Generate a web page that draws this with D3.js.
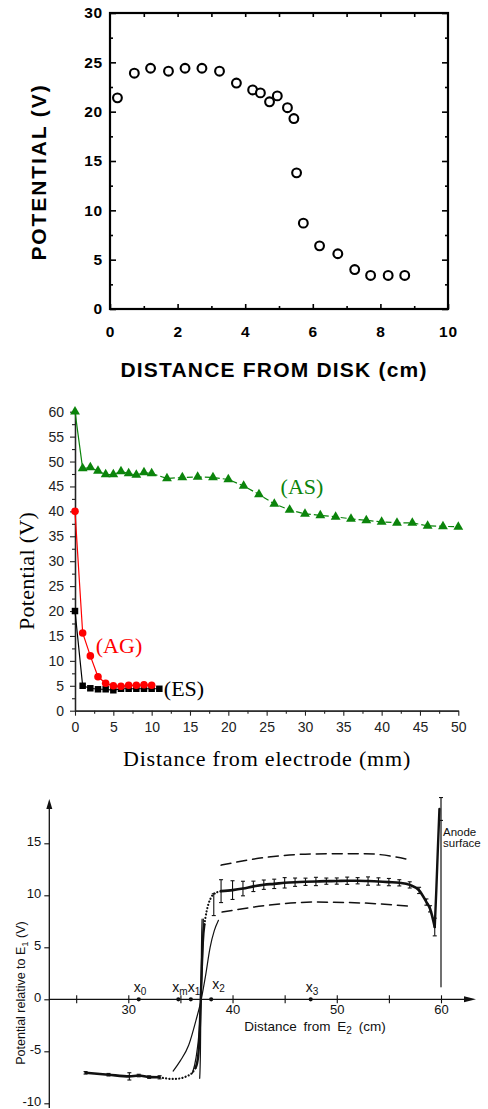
<!DOCTYPE html>
<html>
<head>
<meta charset="utf-8">
<script src="https://cdn.jsdelivr.net/npm/d3@7"></script>
<style>
  html, body { margin: 0; padding: 0; background: #fff; }
  svg { display: block; }
</style>
</head>
<body>
<svg id="fig" width="488" height="1109"></svg>
<script>
// ---------- Panel 1: potential vs distance from disk ----------
const diskX = [0.22, 0.72, 1.2, 1.73, 2.22, 2.72, 3.24, 3.74, 4.22, 4.45, 4.72, 4.95, 5.25, 5.44, 5.52, 5.72, 6.2, 6.74, 7.24, 7.71, 8.23, 8.72];
const diskV = [21.4, 23.9, 24.4, 24.1, 24.4, 24.4, 24.1, 22.9, 22.2, 21.9, 21.0, 21.6, 20.4, 19.3, 13.8, 8.7, 6.4, 5.6, 4.0, 3.4, 3.4, 3.4];
const diskXTicks = [0, 2, 4, 6, 8, 10];
const diskYTicks = [0, 5, 10, 15, 20, 25, 30];

// ---------- Panel 2: potential vs distance from electrode ----------
const asX = [0, 1, 2, 3, 4, 5, 6, 7, 8, 9, 10, 12, 14, 16, 18, 20, 22, 24, 26, 28, 30, 32, 34, 36, 38, 40, 42, 44, 46, 48, 50];
const asV = [60, 48.6, 48.8, 48.1, 47.4, 47.4, 48.0, 47.6, 47.3, 47.8, 47.6, 46.6, 46.8, 46.9, 46.8, 46.4, 45.1, 43.4, 41.5, 40.3, 39.5, 39.2, 38.9, 38.5, 38.2, 37.9, 37.7, 37.7, 37.1, 37.0, 36.9];
const agX = [0, 1, 2, 3, 4, 5, 6, 7, 8, 9, 10];
const agV = [40, 15.6, 11.0, 6.8, 5.5, 5.0, 4.9, 5.1, 5.1, 5.2, 5.1];
const esX = [0, 1, 2, 3, 4, 5, 6, 7, 8, 9, 10, 11];
const esV = [20, 5.0, 4.5, 4.3, 4.3, 4.1, 4.4, 4.4, 4.4, 4.4, 4.4, 4.4];
const elXTicks = [0, 5, 10, 15, 20, 25, 30, 35, 40, 45, 50];
const elYTicks = [0, 5, 10, 15, 20, 25, 30, 35, 40, 45, 50, 55, 60];

// ---------- Panel 3: potential relative to E1 vs distance from E2 ----------
const lowX = [25.9, 28.1, 30.1, 31.0, 32.0, 33.0];
const lowV = [-7.07, -7.25, -7.41, -7.33, -7.48, -7.5];
const lowErr = [0.12, 0.12, 0.35, 0.12, 0.12, 0.15];
const lowDotX = [33.0, 33.7, 34.3, 35.0, 35.6, 36.1, 36.45];
const lowDotV = [-7.5, -7.62, -7.66, -7.6, -7.4, -7.1, -6.6];
const steepX = [36.45, 36.7, 36.85, 36.95, 37.05, 37.15, 37.3];
const steepV = [-6.6, -5.5, -3.0, 0, 3.0, 5.5, 7.2];
const upDotX = [37.3, 37.5, 37.7, 37.95, 38.2, 38.6, 38.9];
const upDotV = [7.2, 8.4, 9.2, 9.8, 10.15, 10.32, 10.4];
const plateauX = [38.9, 40, 41, 42, 43, 44, 45, 46, 47, 48, 49, 50, 51, 52, 53, 54, 55, 56, 57, 57.9, 58.6, 58.95, 59.4];
const plateauV = [10.4, 10.5, 10.65, 10.86, 11.02, 11.1, 11.2, 11.26, 11.3, 11.33, 11.36, 11.37, 11.4, 11.4, 11.37, 11.33, 11.27, 11.2, 11.0, 10.47, 9.35, 8.7, 6.95];
const plateauErr = [1.1, 0.9, 0.7, 0.5, 0.45, 0.45, 0.5, 0.4, 0.35, 0.4, 0.3, 0.3, 0.35, 0.3, 0.4, 0.35, 0.35, 0.3, 0.3, 0.3, 0.3, 0.3, 0.85];
const extraErrX = [38.2];
const extraErrV = [9.1];
const extraErrE = [1.05];
const spikeX = [59.4, 59.55, 59.7, 59.85];
const spikeV = [6.95, 10.5, 14.5, 18.3];
const anodeX = [60.0, 60.0];
const anodeV = [1.2, 19.4];
const wideX = [34.3, 35.0, 35.8, 36.5, 37.0, 37.4, 37.85, 38.25, 38.65];
const wideV = [-6.9, -5.9, -4.4, -2.0, 0, 2.2, 5.0, 6.6, 7.6];
const midX = [36.15, 36.5, 36.8, 36.97, 37.1, 37.2];
const midV = [-7.1, -5.6, -3.0, 0, 3.5, 7.7];
const narrowX = [36.85, 36.92, 36.97, 37.02, 37.08];
const narrowV = [-7.6, -5.0, 0, 5.0, 7.7];
const upperDashX = [38.9, 43.3, 47.9, 52.7, 57.1];
const upperDashV = [12.9, 13.66, 13.98, 14.0, 13.4];
const lowerDashX = [39.0, 43.3, 47.9, 52.7, 57.2];
const lowerDashV = [8.39, 9.03, 9.35, 9.25, 8.94];
const markX = [31.0, 34.8, 36.0, 37.95, 47.5];
const markSub = ["0", "m", "1", "2", "3"];
const e2XTicks = [25, 30, 35, 40, 45, 50, 55, 60];
const e2XLabels = [30, 40, 50, 60];
const e2YTicks = [-10, -5, 0, 5, 10, 15];

const svg = d3.select("#fig");
svg.append("rect").attr("width", 488).attr("height", 1109).attr("fill", "#fff");
const zip = (xs, ys) => xs.map((x, i) => [x, ys[i]]);

// ===== Panel 1 =====
{
  const g = svg.append("g");
  const x = d3.scaleLinear().domain([0, 10]).range([110, 448]);
  const y = d3.scaleLinear().domain([0, 30]).range([309, 13]);
  const font = "'Liberation Sans', Arial, sans-serif";

  const styleAxis = sel => {
    sel.select(".domain").remove();
    sel.selectAll("line").attr("stroke", "#000").attr("stroke-width", 1.6);
    sel.selectAll("text").attr("font-family", font).attr("font-weight", "bold")
      .attr("font-size", 15.5).attr("letter-spacing", 0.8).attr("fill", "#000");
  };

  g.append("g").attr("transform", `translate(${x(0)},0)`)
    .call(d3.axisLeft(y).tickValues(diskYTicks).tickSizeInner(-6).tickSizeOuter(0).tickPadding(7))
    .call(styleAxis);
  g.append("g").attr("transform", `translate(${x(0)},0)`)
    .call(d3.axisLeft(y).tickValues(d3.range(2.5, 30, 5)).tickSizeInner(-3).tickSizeOuter(0).tickFormat(""))
    .call(styleAxis);
  g.append("g").attr("transform", `translate(${x(10)},0)`)
    .call(d3.axisRight(y).tickValues(diskYTicks).tickSizeInner(-6).tickSizeOuter(0).tickFormat(""))
    .call(styleAxis);
  g.append("g").attr("transform", `translate(${x(10)},0)`)
    .call(d3.axisRight(y).tickValues(d3.range(2.5, 30, 5)).tickSizeInner(-3).tickSizeOuter(0).tickFormat(""))
    .call(styleAxis);
  g.append("g").attr("transform", `translate(0,${y(0)})`)
    .call(d3.axisBottom(x).tickValues(diskXTicks).tickSizeInner(-5).tickSizeOuter(0).tickPadding(17))
    .call(styleAxis);
  g.append("g").attr("transform", `translate(0,${y(0)})`)
    .call(d3.axisBottom(x).tickValues(d3.range(1, 10, 2)).tickSizeInner(-3).tickSizeOuter(0).tickFormat(""))
    .call(styleAxis);
  g.append("g").attr("transform", `translate(0,${y(30)})`)
    .call(d3.axisTop(x).tickValues(d3.range(1, 10, 1)).tickSizeInner(-4).tickSizeOuter(0).tickFormat(""))
    .call(styleAxis);

  g.append("rect").attr("x", x(0)).attr("y", y(30))
    .attr("width", x(10) - x(0)).attr("height", y(0) - y(30))
    .attr("fill", "none").attr("stroke", "#000").attr("stroke-width", 2.2);

  g.selectAll("circle.pt").data(zip(diskX, diskV)).join("circle")
    .attr("class", "pt")
    .attr("cx", d => x(d[0])).attr("cy", d => y(d[1])).attr("r", 4.4)
    .attr("fill", "#fff").attr("stroke", "#000").attr("stroke-width", 2.1);

  g.append("text").attr("x", 274).attr("y", 371).attr("text-anchor", "middle")
    .attr("dominant-baseline", "middle")
    .attr("font-family", font).attr("font-weight", "bold").attr("font-size", 21)
    .attr("letter-spacing", 1.2)
    .text("DISTANCE FROM DISK (cm)");
  g.append("text").attr("transform", "translate(40,172) rotate(-90)")
    .attr("text-anchor", "middle").attr("dominant-baseline", "middle")
    .attr("font-family", font).attr("font-weight", "bold").attr("font-size", 21)
    .attr("letter-spacing", 1.9)
    .text("POTENTIAL (V)");
}

// ===== Panel 2 =====
{
  const g = svg.append("g");
  const x = d3.scaleLinear().domain([0, 50]).range([75, 458.3]);
  const y = d3.scaleLinear().domain([0, 60]).range([710.7, 411.7]);
  const font = "'Liberation Sans', Arial, sans-serif";
  const serif = "'Liberation Serif', 'Times New Roman', serif";

  const styleAxis = sel => {
    sel.select(".domain").attr("stroke", "#222").attr("stroke-width", 1.3);
    sel.selectAll("line").attr("stroke", "#222").attr("stroke-width", 1.1);
    sel.selectAll("text").attr("font-family", font).attr("font-size", 14).attr("fill", "#222");
  };
  g.append("g").attr("transform", `translate(${x(0)},0)`)
    .call(d3.axisLeft(y).tickValues(d3.range(2.5, 60, 5)).tickSizeInner(3).tickSizeOuter(0).tickFormat(""))
    .call(styleAxis);
  g.append("g").attr("transform", `translate(0,${y(0)})`)
    .call(d3.axisBottom(x).tickValues(d3.range(2.5, 50, 5)).tickSizeInner(3).tickSizeOuter(0).tickFormat(""))
    .call(styleAxis);
  g.append("g").attr("transform", `translate(${x(0)},0)`)
    .call(d3.axisLeft(y).tickValues(elYTicks).tickSizeInner(5).tickSizeOuter(0).tickPadding(6))
    .call(styleAxis);
  g.append("g").attr("transform", `translate(0,${y(0)})`)
    .call(d3.axisBottom(x).tickValues(elXTicks).tickSizeInner(5).tickSizeOuter(0).tickPadding(6))
    .call(styleAxis);

  const green = "#0b840b", red = "#ff0000", black = "#000";
  const line = d3.line().x(d => x(d[0])).y(d => y(d[1]));
  const asPts = zip(asX, asV);
  g.append("path").attr("d", line(asPts.slice(0, 11))).attr("fill", "none")
    .attr("stroke", green).attr("stroke-width", 1.2);
  g.append("path").attr("d", line(asPts.slice(10))).attr("fill", "none")
    .attr("stroke", green).attr("stroke-width", 1.2).attr("stroke-dasharray", "6,3");
  g.append("path").attr("d", line(zip(esX, esV))).attr("fill", "none")
    .attr("stroke", black).attr("stroke-width", 1.2);
  g.append("path").attr("d", line(zip(agX, agV))).attr("fill", "none")
    .attr("stroke", red).attr("stroke-width", 1.2);

  const tri = d3.symbol().type(d3.symbolTriangle).size(42);
  g.selectAll("path.as").data(asPts).join("path").attr("class", "as")
    .attr("d", tri).attr("transform", d => `translate(${x(d[0])},${y(d[1])})`)
    .attr("fill", green);
  const sq = d3.symbol().type(d3.symbolSquare).size(42);
  g.selectAll("path.es").data(zip(esX, esV)).join("path").attr("class", "es")
    .attr("d", sq).attr("transform", d => `translate(${x(d[0])},${y(d[1])})`)
    .attr("fill", black);
  g.selectAll("circle.ag").data(zip(agX, agV)).join("circle").attr("class", "ag")
    .attr("cx", d => x(d[0])).attr("cy", d => y(d[1])).attr("r", 3.8).attr("fill", red);

  const lab = (t, cx, cy, c) => g.append("text").attr("x", cx).attr("y", cy)
    .attr("text-anchor", "middle").attr("dominant-baseline", "middle")
    .attr("font-family", serif).attr("font-size", 22).attr("fill", c).text(t);
  lab("(AS)", 302, 489, green);
  lab("(AG)", 119, 648, red);
  lab("(ES)", 184, 691, black);

  g.append("text").attr("x", 267).attr("y", 761).attr("text-anchor", "middle")
    .attr("dominant-baseline", "middle").attr("font-family", serif).attr("font-size", 22)
    .attr("letter-spacing", 0.8)
    .text("Distance from electrode (mm)");
  g.append("text").attr("transform", "translate(29,571) rotate(-90)")
    .attr("text-anchor", "middle").attr("dominant-baseline", "middle")
    .attr("font-family", serif).attr("font-size", 22).attr("letter-spacing", 0.3)
    .text("Potential (V)");
}

// ===== Panel 3 =====
{
  const g = svg.append("g");
  const x = d3.scaleLinear().domain([30, 60]).range([128.3, 441]);
  const y = d3.scaleLinear().domain([0, 15]).range([999.3, 843.3]);
  const font = "'Liberation Sans', Arial, sans-serif";
  const ink = "#111";
  const axX = 49.3;

  // axis lines with arrowheads
  g.append("line").attr("x1", axX).attr("x2", axX).attr("y1", 1108).attr("y2", 803)
    .attr("stroke", ink).attr("stroke-width", 1.3);
  g.append("path").attr("d", `M${axX},799 L${axX - 3},809 L${axX + 3},809 Z`).attr("fill", ink);
  g.append("line").attr("x1", axX).attr("x2", 470).attr("y1", y(0)).attr("y2", y(0))
    .attr("stroke", ink).attr("stroke-width", 1.3);
  g.append("path").attr("d", `M476,${y(0)} L464,${y(0) - 3} L464,${y(0) + 3} Z`).attr("fill", ink);

  const styleAxis = sel => {
    sel.select(".domain").remove();
    sel.selectAll("line").attr("stroke", ink).attr("stroke-width", 1.1);
    sel.selectAll("text").attr("font-family", font).attr("font-size", 13).attr("fill", ink);
  };
  g.append("g").attr("transform", `translate(${axX},0)`)
    .call(d3.axisLeft(y).tickValues(e2YTicks).tickSizeInner(5).tickSizeOuter(0).tickPadding(3)
      .tickFormat(d => String(d)))
    .call(styleAxis)
    .call(sel => sel.selectAll("text").attr("dy", "0.2em"));
  g.append("g").attr("transform", `translate(0,${y(0)})`)
    .call(d3.axisBottom(x).tickValues(e2XTicks).tickSizeInner(4).tickSizeOuter(0)
      .tickFormat(d => e2XLabels.includes(d) ? String(d) : "").tickPadding(1))
    .call(styleAxis);
  g.append("g").attr("transform", `translate(0,${y(0)})`)
    .call(d3.axisTop(x).tickValues(e2XTicks).tickSizeInner(4).tickSizeOuter(0).tickFormat(""))
    .call(styleAxis);

  const smooth = d3.line().x(d => x(d[0])).y(d => y(d[1])).curve(d3.curveMonotoneX);
  const path = (pts, w, dash) => g.append("path").attr("d", smooth(pts)).attr("fill", "none")
    .attr("stroke", ink).attr("stroke-width", w).attr("stroke-linecap", "round")
    .attr("stroke-dasharray", dash || null);

  // dashed envelopes
  path(zip(upperDashX, upperDashV), 1.5, "10,6");
  path(zip(lowerDashX, lowerDashV), 1.5, "10,6");

  // thin model curves through the transition
  path(zip(wideX, wideV), 1.2);
  path(zip(midX, midV), 1.2);
  path(zip(narrowX, narrowV), 1.2);

  // measured profile
  path(zip(lowX, lowV), 2.6);
  path(zip(lowDotX, lowDotV), 2.2, "0.1,3.2");
  path(zip(steepX, steepV), 2.4);
  path(zip(upDotX, upDotV), 2.2, "0.1,3.2");
  path(zip(plateauX, plateauV), 2.6);
  path(zip(spikeX, spikeV), 2.4);
  path(zip(anodeX, anodeV), 1.2);

  // error bars
  const errs = zip(lowX, lowV).map((d, i) => [d[0], d[1], lowErr[i]])
    .concat(zip(plateauX, plateauV).map((d, i) => [d[0], d[1], plateauErr[i]]))
    .concat(extraErrX.map((v, i) => [v, extraErrV[i], extraErrE[i]]));
  const eb = g.selectAll("g.eb").data(errs).join("g").attr("class", "eb")
    .attr("stroke", ink).attr("stroke-width", 1.1);
  eb.append("line").attr("x1", d => x(d[0])).attr("x2", d => x(d[0]))
    .attr("y1", d => y(d[1] - d[2])).attr("y2", d => y(d[1] + d[2]));
  eb.append("line").attr("x1", d => x(d[0]) - 2).attr("x2", d => x(d[0]) + 2)
    .attr("y1", d => y(d[1] - d[2])).attr("y2", d => y(d[1] - d[2]));
  eb.append("line").attr("x1", d => x(d[0]) - 2).attr("x2", d => x(d[0]) + 2)
    .attr("y1", d => y(d[1] + d[2])).attr("y2", d => y(d[1] + d[2]));
  // caps on the anode line
  [anodeV[1], 17.2].forEach(v => g.append("line").attr("x1", x(60) - 2).attr("x2", x(60) + 2)
    .attr("y1", y(v)).attr("y2", y(v)).attr("stroke", ink).attr("stroke-width", 1.1));

  // marked positions on the axis
  g.selectAll("circle.mk").data(markX).join("circle").attr("class", "mk")
    .attr("cx", d => x(d)).attr("cy", y(0)).attr("r", 2.1).attr("fill", ink);
  const mkOff = [-5, -6, -3, 1, -5];
  const mk = g.selectAll("text.mk").data(markX).join("text").attr("class", "mk")
    .attr("x", (d, i) => x(d) + mkOff[i]).attr("y", (d, i) => i === 3 ? 989 : 992)
    .attr("text-anchor", "start").attr("font-family", font).attr("font-size", 14).attr("fill", ink);
  mk.append("tspan").text("x");
  mk.append("tspan").attr("font-size", 10).attr("dy", 3).text((d, i) => markSub[i]);

  // labels
  g.append("text").attr("x", 443).attr("y", 835.5).attr("font-family", font).attr("font-size", 11.5)
    .attr("fill", ink).text("Anode");
  g.append("text").attr("x", 443).attr("y", 847).attr("font-family", font).attr("font-size", 11.5)
    .attr("fill", ink).text("surface");

  const xt = g.append("text").attr("x", 315).attr("y", 1031).attr("text-anchor", "middle")
    .attr("font-family", font).attr("font-size", 13.5).attr("fill", ink)
    .attr("word-spacing", 3);
  xt.append("tspan").text("Distance from E");
  xt.append("tspan").attr("font-size", 10).attr("dy", 3).text("2");
  xt.append("tspan").attr("dy", -3).text(" (cm)");

  const yt = g.append("text").attr("transform", "translate(25,993) rotate(-90)")
    .attr("text-anchor", "middle").attr("font-family", font).attr("font-size", 12.5).attr("fill", ink);
  yt.append("tspan").text("Potential relative to E");
  yt.append("tspan").attr("font-size", 9.5).attr("dy", 3).text("1");
  yt.append("tspan").attr("dy", -3).text(" (V)");
}
</script>
</body>
</html>
